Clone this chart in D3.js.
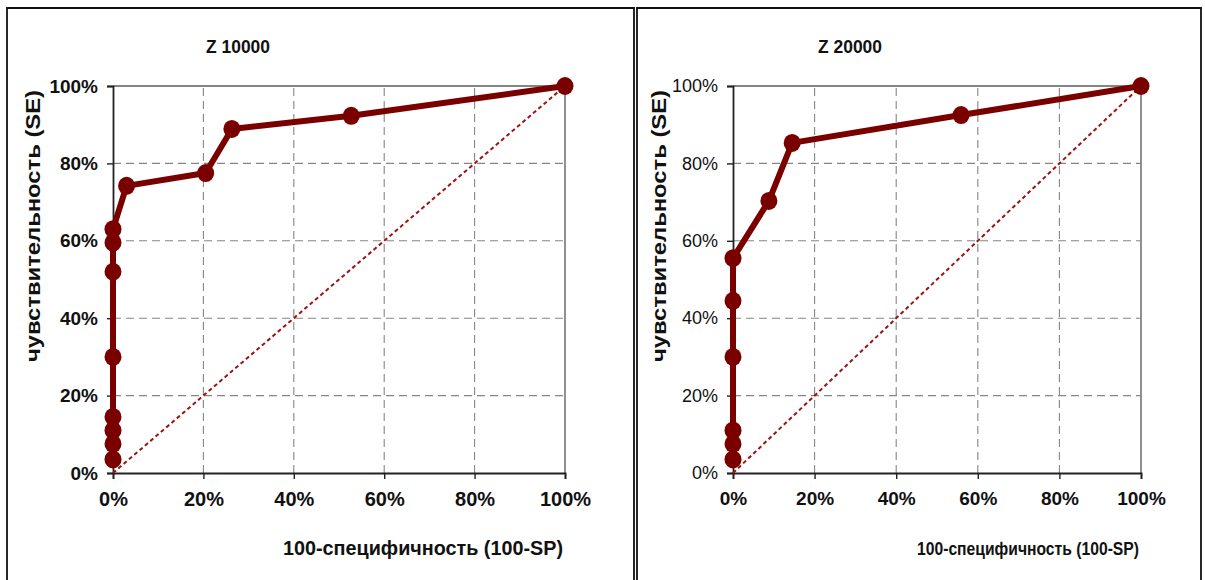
<!DOCTYPE html>
<html>
<head>
<meta charset="utf-8">
<script src="https://cdn.jsdelivr.net/npm/d3@7"></script>
<style>
  body { margin: 0; background: #fff; }
  svg { display: block; }
  text { font-family: "Liberation Sans", Arial, sans-serif; fill: #111; }
</style>
</head>
<body>
<svg id="chart" width="1205" height="580"></svg>
<script>
/* chart data */
var axisTicks = [0, 20, 40, 60, 80, 100];
var panelTitles = ["Z 10000", "Z 20000"];
var xLabel = "100-специфичность (100-SP)";
var yLabel = "чувствительность (SE)";

var z10000FP = [0, 0, 0, 0, 0, 0, 0, 0, 3, 20.5, 26.3, 52.7, 100];
var z10000SE = [3.5, 7.5, 11, 14.5, 30, 52, 59.5, 63, 74.2, 77.5, 88.9, 92.3, 100];

var z20000FP = [0, 0, 0, 0, 0, 0, 8.8, 14.5, 55.9, 100];
var z20000SE = [3.5, 7.5, 11, 30, 44.5, 55.5, 70.3, 85.3, 92.5, 100];

var diagonal = [0, 100];

var svg = d3.select('#chart');
var red = '#7a0000';

/* one panel of the figure */
var drawPanel = function (opt) {
  var g = svg.append('g');

  // frame of the panel
  g.append('path')
    .attr('d', 'M' + opt.frame[0] + ',590 V' + 8 + ' H' + opt.frame[1] + ' V590')
    .attr('fill', 'none').attr('stroke', '#111').attr('stroke-width', 1.8);

  var x = d3.scaleLinear().domain([0, 100]).range(opt.xRange);
  var y = d3.scaleLinear().domain([0, 100]).range([473, 86]);

  // dashed grid
  g.selectAll('.vgrid').data(axisTicks.slice(1, -1)).enter().append('line')
    .attr('x1', function(d) { return x(d); }).attr('x2', function(d) { return x(d); })
    .attr('y1', y(0)).attr('y2', y(100))
    .attr('stroke', '#858585').attr('stroke-width', 1.1).attr('stroke-dasharray', '8,5');
  g.selectAll('.hgrid').data(axisTicks.slice(1, -1)).enter().append('line')
    .attr('y1', function(d) { return y(d); }).attr('y2', function(d) { return y(d); })
    .attr('x1', x(0)).attr('x2', x(100))
    .attr('stroke', '#858585').attr('stroke-width', 1.1).attr('stroke-dasharray', '8,5');

  // top and right edges of the plot area
  g.append('path')
    .attr('d', 'M' + x(0) + ',' + y(100) + ' H' + x(100) + ' V' + y(0))
    .attr('fill', 'none').attr('stroke', '#858585').attr('stroke-width', 1.8);

  // axes
  var xAxis = g.append('g').attr('transform', 'translate(0,' + y(0) + ')')
    .call(d3.axisBottom(x).tickValues(axisTicks).tickSize(6).tickPadding(13)
      .tickFormat(function(d) { return d + '%'; }));
  var yAxis = g.append('g').attr('transform', 'translate(' + x(0) + ',0)')
    .call(d3.axisLeft(y).tickValues(axisTicks).tickSize(6).tickPadding(9)
      .tickFormat(function(d) { return d + '%'; }));

  [xAxis, yAxis].forEach(function(a) {
    a.select('.domain').attr('stroke', '#222').attr('stroke-width', 1.8);
    a.selectAll('.tick line').attr('stroke', '#222').attr('stroke-width', 1.4);
  });
  xAxis.selectAll('.tick text')
    .style('font-family', '"Liberation Sans", Arial, sans-serif')
    .style('font-size', opt.xTickSize + 'px').style('font-weight', 'bold').attr('fill', '#111');
  yAxis.selectAll('.tick text')
    .style('font-family', '"Liberation Sans", Arial, sans-serif')
    .style('font-size', opt.yTickSize + 'px').style('font-weight', opt.yTickWeight).attr('fill', '#111');

  // reference diagonal
  g.append('line')
    .attr('x1', x(diagonal[0])).attr('y1', y(diagonal[0]))
    .attr('x2', x(diagonal[1])).attr('y2', y(diagonal[1]))
    .attr('stroke', '#9a1414').attr('stroke-width', 2).attr('stroke-dasharray', '4,3');

  // ROC curve
  var pts = opt.fp.map(function(d, i) { return [d, opt.se[i]]; });
  var line = d3.line().x(function(d) { return x(d[0]); }).y(function(d) { return y(d[1]); });
  g.append('path').datum(pts).attr('d', line)
    .attr('fill', 'none').attr('stroke', red).attr('stroke-width', 6)
    .attr('stroke-linejoin', 'round');
  g.selectAll('.dot').data(pts).enter().append('ellipse')
    .attr('cx', function(d) { return x(d[0]); })
    .attr('cy', function(d) { return y(d[1]); })
    .attr('rx', 8.5).attr('ry', 9)
    .attr('fill', red);

  // title and axis labels
  g.append('text').attr('x', opt.titleX).attr('y', 53)
    .attr('text-anchor', 'middle').style('font-size', '18px').style('font-weight', 'bold')
    .attr('textLength', 64).attr('lengthAdjust', 'spacingAndGlyphs')
    .text(opt.title);
  g.append('text').attr('x', opt.xLabelX).attr('y', 555)
    .attr('text-anchor', 'middle').style('font-size', opt.xLabelSize + 'px').style('font-weight', 'bold')
    .attr('textLength', opt.xLabelLen).attr('lengthAdjust', 'spacingAndGlyphs')
    .text(xLabel);
  g.append('text')
    .attr('transform', 'translate(' + opt.yLabelX + ',226) rotate(-90)')
    .attr('text-anchor', 'middle').style('font-size', '20px').style('font-weight', 'bold')
    .attr('textLength', 272).attr('lengthAdjust', 'spacingAndGlyphs')
    .text(yLabel);
};

drawPanel({
  frame: [7, 634], xRange: [113, 565], fp: z10000FP, se: z10000SE,
  title: panelTitles[0], titleX: 238, xLabelX: 423, xLabelLen: 280, xLabelSize: 21,
  yLabelX: 40, xTickSize: 20, yTickSize: 19, yTickWeight: 'bold'
});
drawPanel({
  frame: [637, 1201], xRange: [733, 1141], fp: z20000FP, se: z20000SE,
  title: panelTitles[1], titleX: 850, xLabelX: 1028, xLabelLen: 222, xLabelSize: 19,
  yLabelX: 666, xTickSize: 19, yTickSize: 18, yTickWeight: 'normal'
});
</script>
</body>
</html>
